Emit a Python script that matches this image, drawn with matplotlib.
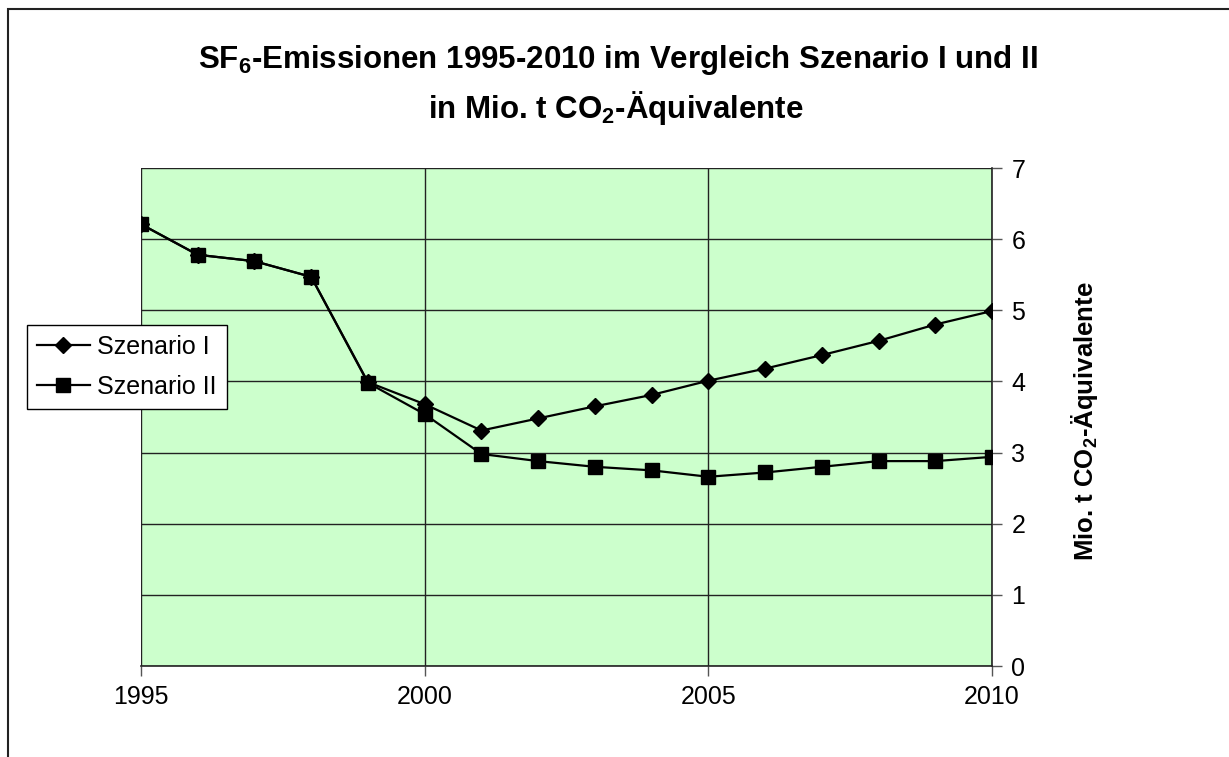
import numpy as np
import matplotlib.pyplot as plt
from matplotlib.patches import Rectangle

plt.rcParams['font.family'] = ['Liberation Sans', 'DejaVu Sans']
plt.rcParams['mathtext.fontset'] = 'custom'
plt.rcParams['mathtext.rm'] = 'Liberation Sans'
plt.rcParams['mathtext.bf'] = 'Liberation Sans:bold'

years = np.arange(1995, 2011)
szenario_1 = [6.21, 5.78, 5.69, 5.47, 3.99, 3.68, 3.31, 3.48, 3.65, 3.81,
              4.01, 4.18, 4.37, 4.57, 4.80, 4.99]
szenario_2 = [6.21, 5.78, 5.69, 5.47, 3.98, 3.54, 2.98, 2.88, 2.80, 2.75,
              2.66, 2.72, 2.80, 2.88, 2.88, 2.94]
xticks = [1995, 2000, 2005, 2010]
yticks = [0, 1, 2, 3, 4, 5, 6, 7]

fig = plt.figure(figsize=(12.29, 7.57), dpi=100)
ax = fig.add_axes([141/1229, 1-666/757, (992-141)/1229, (666-168)/757])
ax.set_facecolor('#ccffcc')

ax.plot(years, szenario_1, color='black', lw=1.6, marker='D', ms=7.8,
        label='Szenario I', zorder=3)
ax.plot(years, szenario_2, color='black', lw=1.6, marker='s', ms=9.5,
        label='Szenario II', zorder=3)

ax.set_xlim(1995, 2010)
ax.set_ylim(0, 7)
ax.set_xticks(xticks)
ax.set_yticks(yticks)
ax.yaxis.tick_right()
ax.tick_params(axis='both', direction='out', length=7, width=1, color='#555555',
               labelsize=18, pad=7)
ax.grid(True, color='#222222', lw=1)
ax.set_axisbelow(True)
for s in ['top', 'left']:
    ax.spines[s].set_visible(False)
for s in ['bottom', 'right']:
    ax.spines[s].set_color('#222222')
    ax.spines[s].set_linewidth(1.2)

fig.text(1085/1229, 1-421/757, r'Mio. t CO$_{\mathbf{2}}$-Äquivalente', rotation=90,
         ha='center', va='center', fontsize=18.5, fontweight='bold')

fig.text(618/1229, 1-60/757,
         r'SF$_{\mathbf{6}}$-Emissionen 1995-2010 im Vergleich Szenario I und II',
         ha='center', va='center', fontsize=22.5, fontweight='bold')
fig.text(616/1229, 1-108/757, r'in Mio. t CO$_{\mathbf{2}}$-Äquivalente',
         ha='center', va='center', fontsize=22.5, fontweight='bold')

leg = fig.legend(loc='upper left', bbox_to_anchor=(27/1229, 1-325/757),
                 fontsize=18, frameon=True, fancybox=False, edgecolor='black',
                 framealpha=1, handlelength=2.1, borderpad=0.4, labelspacing=0.62,
                 handletextpad=0.3, borderaxespad=0)
leg.get_frame().set_linewidth(1)

fig.patches.append(Rectangle((8/1229, -0.1), 1.2, 1 - 9/757 + 0.1,
                             transform=fig.transFigure, fill=False,
                             edgecolor='#222222', lw=1.5))

fig.savefig('out.png', dpi=100)
